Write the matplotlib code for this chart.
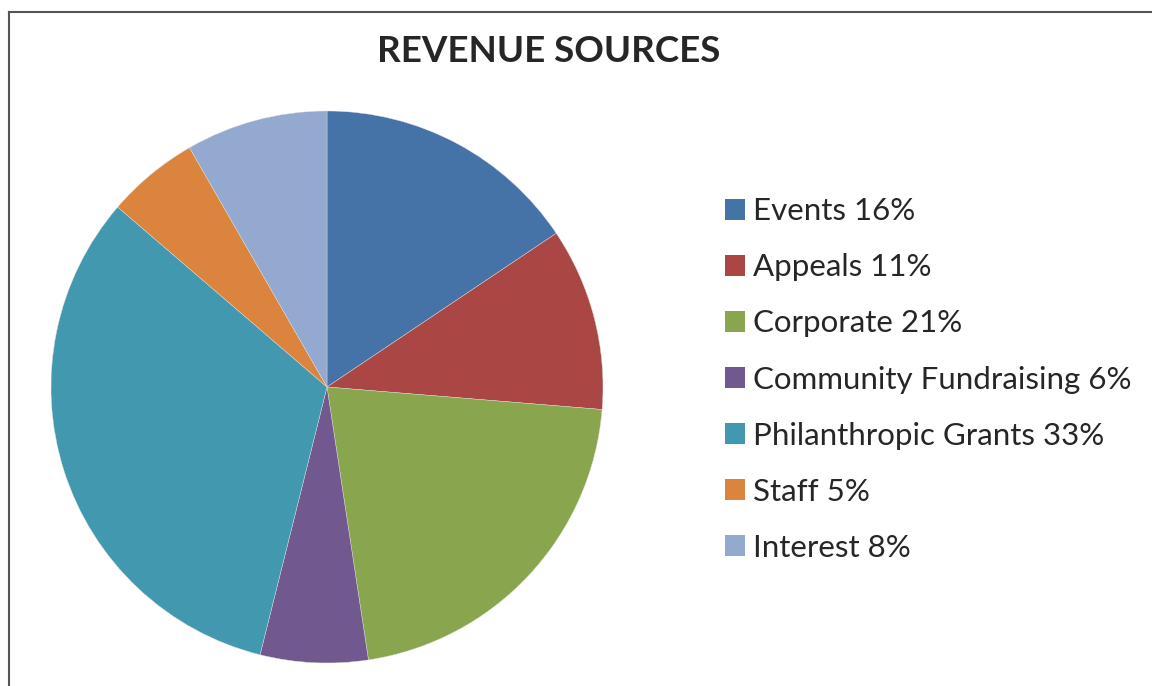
import matplotlib
matplotlib.use('Agg')
import matplotlib.pyplot as plt
from matplotlib.patches import Patch
from matplotlib.lines import Line2D

# Revenue shares (wedge sizes, labels as shown)
categories = ['Events', 'Appeals', 'Corporate', 'Community Fundraising',
              'Philanthropic Grants', 'Staff', 'Interest']
shares = [15.6, 10.7, 21.3, 6.3, 32.4, 5.4, 8.3]
label_pct = [16, 11, 21, 6, 33, 5, 8]
colors = ['#4572A7', '#AA4643', '#89A54E', '#71588F', '#4198AF', '#DB843D', '#93A9CF']

plt.rcParams['font.family'] = ['Lato', 'DejaVu Sans']
text_color = '#262626'

W, H = 1152, 686
fig = plt.figure(figsize=(W / 100, H / 100), dpi=100)

# Frame lines (top and left edge of the chart box)
fig.add_artist(Line2D([9 / W, 9 / W], [0, 1 - 12 / H], transform=fig.transFigure,
                      color='#555555', lw=1.5))
fig.add_artist(Line2D([9 / W, 1], [1 - 12 / H, 1 - 12 / H], transform=fig.transFigure,
                      color='#555555', lw=1.5))

# Pie: centre (327, 387), radius 276 px
cx, cy, r = 327, 387, 276
ax = fig.add_axes([(cx - r) / W, (H - cy - r) / H, 2 * r / W, 2 * r / H])
ax.pie(shares, colors=colors, startangle=90, counterclock=False,
       wedgeprops=dict(linewidth=0.3, edgecolor='#dddddd'))
ax.set_xlim(-1, 1)
ax.set_ylim(-1, 1)
ax.axis('off')

fig.text(549 / W, 1 - 52 / H, 'REVENUE SOURCES', ha='center', va='center',
         fontsize=26.5, fontweight='bold', color=text_color)

handles = [Patch(facecolor=c, edgecolor='none') for c in colors]
labels = [f'{n} {p}%' for n, p in zip(categories, label_pct)]
fig.legend(handles, labels, loc='upper left', bbox_to_anchor=(697 / W, 1 - 169 / H),
           frameon=False, fontsize=22.5, handlelength=0.65, handleheight=0.65,
           handletextpad=0.25, labelspacing=0.9, labelcolor=text_color)

fig.savefig('out.png', dpi=100)
